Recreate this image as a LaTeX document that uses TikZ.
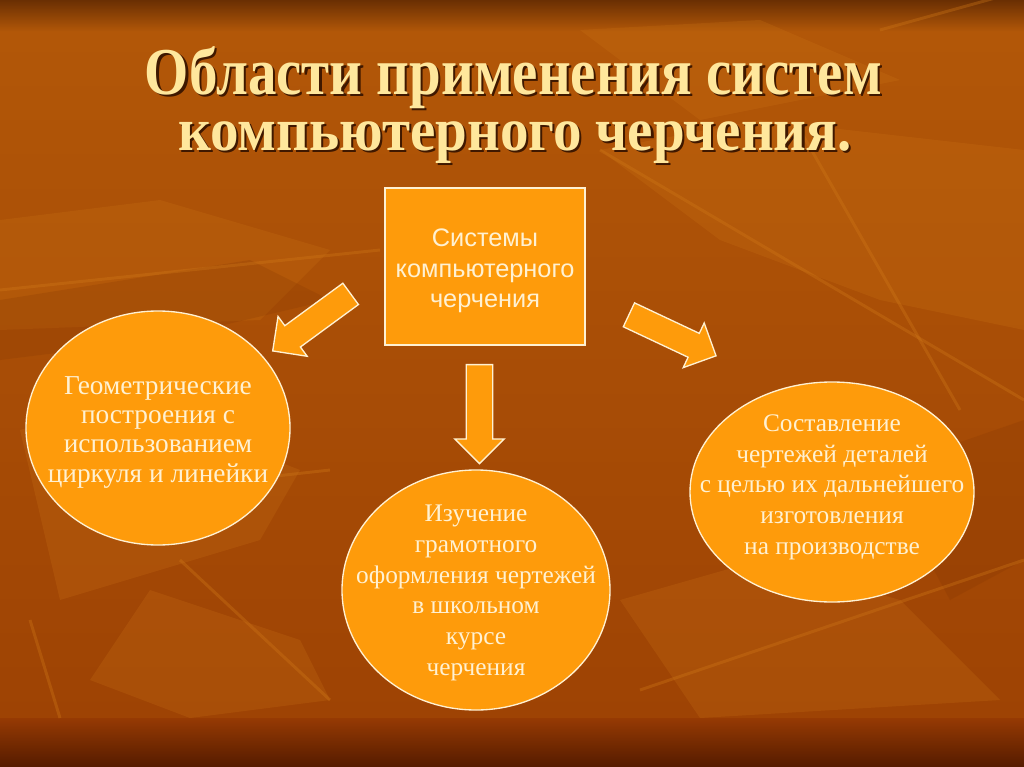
\documentclass[tikz,border=0pt]{standalone}
\usepackage{fontspec}
\setmainfont{Liberation Serif}
\newfontfamily\boxsans{Liberation Sans}
\usetikzlibrary{shapes.geometric,shapes.arrows}
\definecolor{bgtopdark}{HTML}{6A2F03}
\definecolor{bgtop}{HTML}{B35808}
\definecolor{bgbody}{HTML}{9E4304}
\definecolor{bgband}{HTML}{963A03}
\definecolor{bgbanddark}{HTML}{551B00}
\definecolor{leafcol}{HTML}{D07818}
\definecolor{leafdarkcol}{HTML}{7A3002}
\definecolor{orangefill}{HTML}{FE9B0B}
\definecolor{cream}{HTML}{FFF1D2}
\definecolor{titlecol}{HTML}{FFE79C}
\definecolor{shadowcol}{HTML}{3F1800}
\newcommand{\shadowtext}[1]{\leavevmode\rlap{\kern2pt\raisebox{-1.9pt}{\textcolor{shadowcol}{#1}}}\textcolor{titlecol}{#1}}
\begin{document}
\begin{tikzpicture}[x=0.75pt,y=-0.75pt,
  blockshape/.style={fill=orangefill, draw=cream, line width=1pt},
  centerbox/.style={blockshape, rectangle, minimum width=150pt, minimum height=117.75pt, inner sep=0pt},
  boxtext/.style={align=center, text=cream, inner sep=0pt, font=\boxsans\fontsize{19}{23}\selectfont},
  oval/.style={blockshape, ellipse, inner sep=0pt},
  ovaltext/.style={align=center, text=cream, inner sep=0pt, font=\fontsize{19}{23}\selectfont},
  bigarrow/.style={blockshape, single arrow, inner xsep=0pt, inner ysep=9.4pt, single arrow head extend=8.6pt, single arrow head indent=0pt},
  titletext/.style={anchor=base, inner sep=0pt, font=\fontsize{54}{54}\selectfont\bfseries},
  leaflight/.style={fill=leafcol, opacity=0.22},
  leafdark/.style={fill=leafdarkcol, opacity=0.18},
  stem/.style={draw=leafcol, opacity=0.35, line width=2.2pt},
]
\useasboundingbox (0,0) rectangle (1024,767);
% background
\shade[top color=bgtop, bottom color=bgbody] (0,0) rectangle (1024,718);
\shade[top color=bgtopdark, bottom color=bgtop] (0,0) rectangle (1024,32);
\shade[top color=bgband, bottom color=bgbanddark] (0,718) rectangle (1024,767);
% leaf texture
\fill[leaflight] (600,150) -- (760,120) -- (1024,150) -- (1024,330) -- (880,300) -- (720,240) -- cycle;
\fill[leaflight] (0,220) -- (160,200) -- (330,250) -- (260,320) -- (0,330) -- cycle;
\fill[leafdark] (0,300) -- (250,260) -- (330,300) -- (160,340) -- (0,360) -- cycle;
\fill[leaflight] (20,430) -- (120,400) -- (300,470) -- (260,540) -- (60,600) -- cycle;
\fill[leaflight] (620,600) -- (760,560) -- (900,600) -- (1000,700) -- (700,718) -- cycle;
\fill[leafdark] (880,470) -- (1024,420) -- (1024,560) -- (950,600) -- cycle;
\fill[leaflight] (150,590) -- (300,640) -- (330,700) -- (190,718) -- (90,680) -- cycle;
\fill[leaflight] (580,30) -- (760,20) -- (900,80) -- (700,120) -- cycle;
\draw[stem] (600,150) -- (1024,400);
\draw[stem] (800,130) -- (960,410);
\draw[stem] (0,290) -- (380,250);
\draw[stem] (60,500) -- (330,470);
\draw[stem] (640,690) -- (1024,560);
\draw[stem] (180,560) -- (330,700);
\draw[stem] (880,30) -- (1024,-10);
\draw[stem] (30,620) -- (60,718);
% title
\node[titletext] (t1) at (513.5,94) {\resizebox{552.75pt}{0.93\height}{\shadowtext{Области применения систем}}};
\node[titletext] (t2) at (515,150) {\resizebox{505.5pt}{0.85\height}{\shadowtext{компьютерного черчения.}}};
% central box
\node[centerbox] (sys) at (485,266.5) {};
\node[boxtext] (syst) at (485,271) {Системы\\компьютерного\\черчения};
% arrows
\node[bigarrow, minimum height=72.45pt, rotate=216.2] (aleft) at (317,318.5) {};
\node[bigarrow, minimum height=74.25pt, rotate=-90] (adown) at (479.5,407.5) {};
\node[bigarrow, minimum height=72.2pt, rotate=-25.2] (aright) at (666.5,332.5) {};
% ellipses
\node[oval, minimum width=198pt, minimum height=175.5pt] (geo) at (158,428) {};
\node[ovaltext, font=\fontsize{20.5}{22}\selectfont] (geot) at (158,432) {Геометрические\\построения с\\использованием\\циркуля и линейки};
\node[oval, minimum width=201pt, minimum height=180pt] (study) at (476,590) {};
\node[ovaltext] (studyt) at (476,593) {Изучение\\грамотного\\оформления чертежей\\в школьном\\курсе\\черчения};
\node[oval, minimum width=213pt, minimum height=165pt] (make) at (832,492) {};
\node[ovaltext] (maket) at (832,487) {Составление\\чертежей деталей\\с целью их дальнейшего\\изготовления\\на производстве};
\end{tikzpicture}
\end{document}
